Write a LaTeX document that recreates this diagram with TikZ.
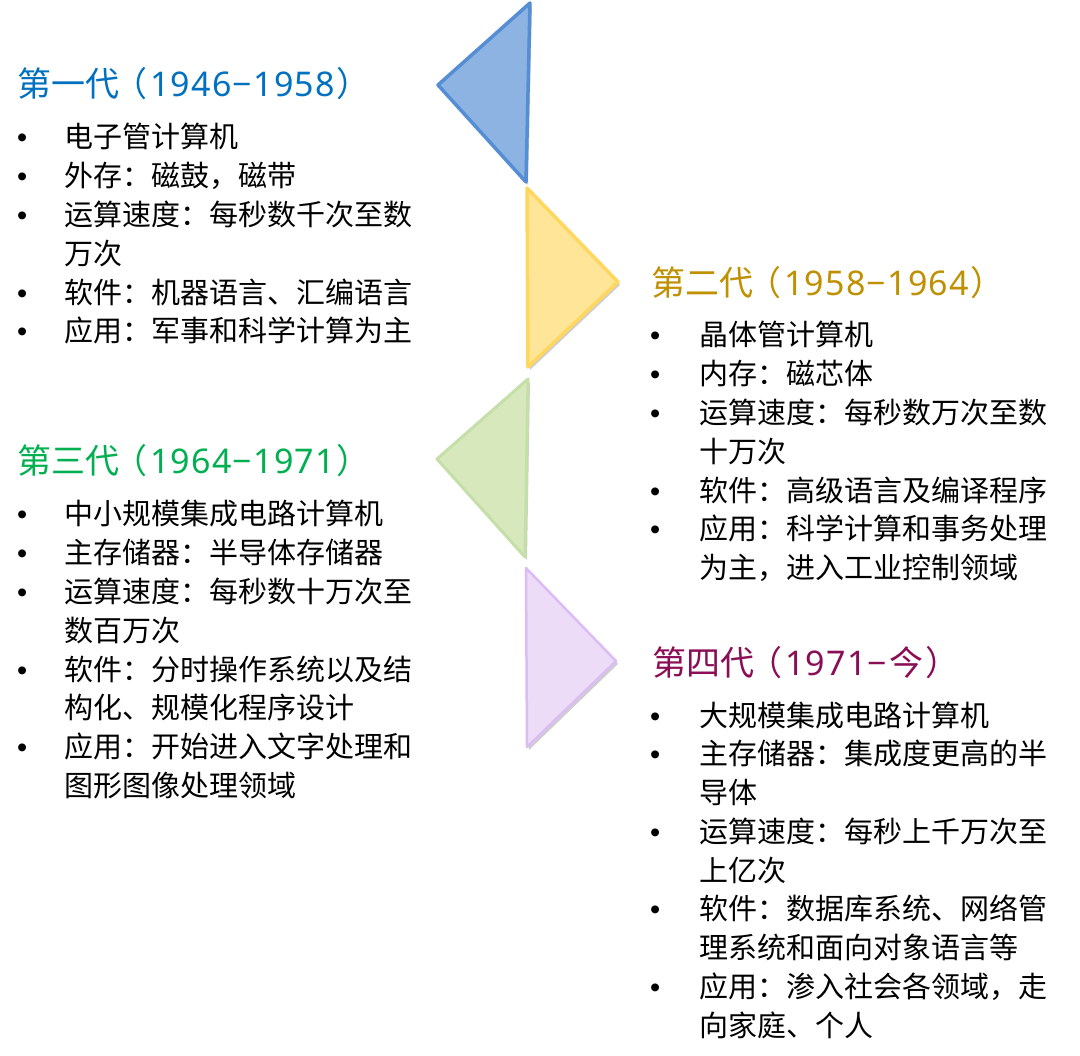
\documentclass[tikz,border=0pt]{standalone}
\usepackage{fontspec}
\setmainfont{Noto Sans CJK SC}
\newfontfamily\bulfont{Liberation Sans}
\newfontfamily\digfont[LetterSpace=3.5]{Noto Sans}
\usetikzlibrary{shadows}
\definecolor{tOne}{HTML}{0070C0}
\definecolor{tTwo}{HTML}{BF9000}
\definecolor{tThree}{HTML}{00B050}
\definecolor{tFour}{HTML}{8B0D55}
\definecolor{blueFill}{HTML}{8DB3E2}
\definecolor{blueLine}{HTML}{558ED5}
\definecolor{yelFill}{HTML}{FFE597}
\definecolor{yelLine}{HTML}{FFD75E}
\definecolor{grnFill}{HTML}{D7E8BC}
\definecolor{grnLine}{HTML}{C4E0A8}
\definecolor{purFill}{HTML}{ECDCF8}
\definecolor{purLine}{HTML}{DCBCF5}
\newcommand\blist[2]{\begin{tabular}[t]{@{}p{#1}@{}l@{}}#2\end{tabular}}
\newcommand\bi{{\bulfont •}}
\newcommand\gentitle[2]{#1\hspace{-6pt}（\hspace{3pt}#2\hspace{2pt}）}
\begin{document}
\begin{tikzpicture}[x=1pt,y=-1pt,
  ttl/.style={anchor=base west, inner sep=0pt, font=\fontsize{34}{40}\selectfont},
  body/.style={anchor=base west, inner sep=0pt, font=\fontsize{29}{38.8}\selectfont, text=black},
  tri/.style={line width=3.5pt, line join=round,
    drop shadow={shadow xshift=2pt, shadow yshift=-3pt, opacity=0.35, fill=black!55}}]
\useasboundingbox[fill=white] (0,0) rectangle (1080,1056);

% triangles
\draw[tri, fill=blueFill, draw=blueLine] (530,3) -- (438,85) -- (526,182) -- cycle;
\draw[tri, fill=yelFill, draw=yelLine] (527,188) -- (618,282) -- (528,367) -- cycle;
\draw[tri, fill=grnFill, draw=grnLine, line width=3pt] (528,379) -- (437,459) -- (525,557) -- cycle;
\draw[tri, fill=purFill, draw=purLine, line width=2.5pt] (526,568) -- (616,661) -- (527,747) -- cycle;

% titles
\node[ttl, text=tOne] (t1) at (17,97) {\gentitle{第一代}{{\digfont 1946−1958}}};
\node[ttl, text=tTwo] (t2) at (651,296) {\gentitle{第二代}{{\digfont 1958−1964}}};
\node[ttl, text=tThree] (t3) at (17,474) {\gentitle{第三代}{{\digfont 1964−1971}}};
\node[ttl, text=tFour] (t4) at (652,675) {\gentitle{第四代}{{\digfont 1971−}\hspace{2pt}今}};

% bullet lists
\node[body] (b1) at (17,148) {\blist{47.5pt}{%
\bi & 电子管计算机\\
\bi & 外存：磁鼓，磁带\\
\bi & 运算速度：每秒数千次至数\\
    & 万次\\
\bi & 软件：机器语言、汇编语言\\
\bi & 应用：军事和科学计算为主\\}};

\node[body] (b2) at (650,346) {\blist{49pt}{%
\bi & 晶体管计算机\\
\bi & 内存：磁芯体\\
\bi & 运算速度：每秒数万次至数\\
    & 十万次\\
\bi & 软件：高级语言及编译程序\\
\bi & 应用：科学计算和事务处理\\
    & 为主，进入工业控制领域\\}};

\node[body] (b3) at (17,525) {\blist{47.5pt}{%
\bi & 中小规模集成电路计算机\\
\bi & 主存储器：半导体存储器\\
\bi & 运算速度：每秒数十万次至\\
    & 数百万次\\
\bi & 软件：分时操作系统以及结\\
    & 构化、规模化程序设计\\
\bi & 应用：开始进入文字处理和\\
    & 图形图像处理领域\\}};

\node[body] (b4) at (650,726) {\blist{49pt}{%
\bi & 大规模集成电路计算机\\
\bi & 主存储器：集成度更高的半\\
    & 导体\\
\bi & 运算速度：每秒上千万次至\\
    & 上亿次\\
\bi & 软件：数据库系统、网络管\\
    & 理系统和面向对象语言等\\
\bi & 应用：渗入社会各领域，走\\
    & 向家庭、个人\\}};
\end{tikzpicture}
\end{document}
